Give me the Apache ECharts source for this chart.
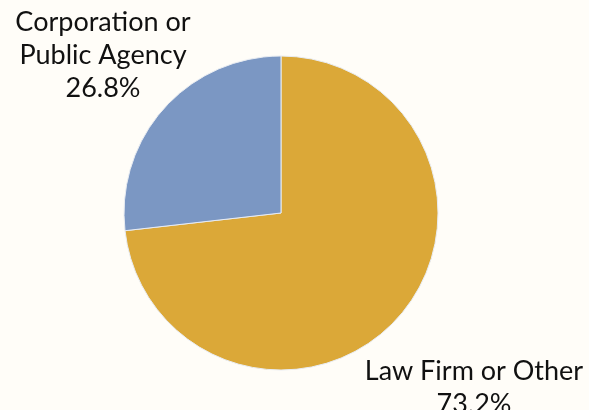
<!DOCTYPE html>
<html><head><meta charset="utf-8">
<script src="https://cdn.jsdelivr.net/npm/echarts@6/dist/echarts.min.js"></script>
<style>html,body{margin:0;padding:0;background:#fffdf8;}#c{width:589px;height:410px;}</style>
</head><body><div id="c"></div>
<script>
const categories = ['Law Firm or Other', 'Corporation or\nPublic Agency'];
const values = [73.2, 26.8];
const colors = ['#dba838', '#7b97c3'];
const labelPos = [[474, 388], [103, 55]];
const chart = echarts.init(document.getElementById('c'));
chart.setOption({
  backgroundColor: '#fffdf8',
  animation: false,
  series: [{
    type: 'pie',
    center: [281, 213],
    radius: [0, 157],
    startAngle: 90,
    clockwise: true,
    data: categories.map((n, i) => ({name: n, value: values[i], itemStyle: {color: colors[i]}})),
    itemStyle: {borderColor: '#e8ecf2', borderWidth: 1},
    label: {
      show: true,
      formatter: p => p.name + '\n' + p.value.toFixed(1) + '%',
      fontFamily: 'Lato',
      fontSize: 27,
      lineHeight: 33,
      color: '#111',
      align: 'center',
      overflow: 'none',
      width: 300
    },
    labelLine: {show: false},
    labelLayout: p => ({x: labelPos[p.dataIndex][0], y: labelPos[p.dataIndex][1], align: 'center', verticalAlign: 'middle'})
  }]
});
</script></body></html>
